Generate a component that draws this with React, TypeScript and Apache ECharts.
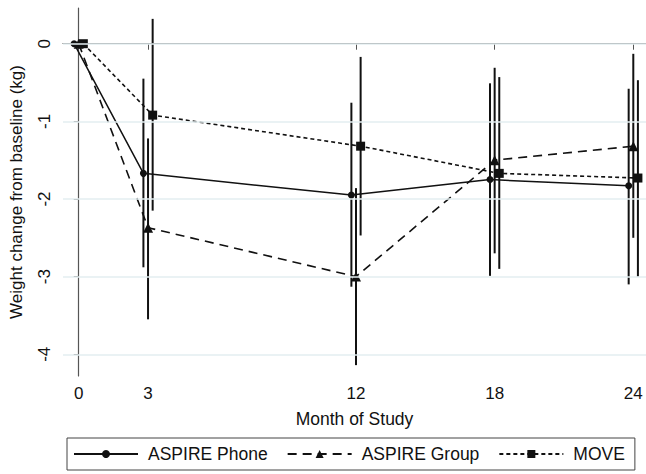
import React, { useEffect, useRef } from "react";
import * as echarts from "echarts";

const months = [0, 3, 12, 18, 24];
const xTicks = [0, 3, 12, 18, 24];
const yTicks = [-4, -3, -2, -1, 0];

const phone = [0, -1.67, -1.95, -1.75, -1.83];
const phoneLo = [null, -2.88, -3.13, -2.99, -3.1];
const phoneHi = [null, -0.45, -0.76, -0.51, -0.58];

const group = [0, -2.37, -3.0, -1.5, -1.32];
const groupLo = [null, -3.55, -4.14, -2.7, -2.5];
const groupHi = [null, -1.22, -1.86, -0.31, -0.13];

const move = [0, -0.92, -1.32, -1.67, -1.73];
const moveLo = [null, -2.15, -2.47, -2.9, -3.0];
const moveHi = [null, 0.32, -0.17, -0.43, -0.47];

const seriesNames = ["ASPIRE Phone", "ASPIRE Group", "MOVE"];
const offsets = [-0.2, 0, 0.2];

const FONT = "Liberation Sans, Arial, Helvetica, sans-serif";

function pts(vals: number[], off: number) {
  return months.map((m, i) => [m + off, vals[i]]);
}
function bars(lo: (number | null)[], hi: (number | null)[], off: number) {
  const out: number[][] = [];
  months.forEach((m, i) => {
    if (lo[i] !== null && hi[i] !== null) out.push([m + off, lo[i] as number, hi[i] as number]);
  });
  return out;
}

function errSeries(data: number[][]) {
  return {
    type: "custom",
    silent: true,
    z: 3,
    data,
    renderItem: (params: any, api: any) => {
      const x = api.value(0);
      const p1 = api.coord([x, api.value(1)]);
      const p2 = api.coord([x, api.value(2)]);
      return {
        type: "line",
        shape: { x1: p1[0], y1: p1[1], x2: p2[0], y2: p2[1] },
        style: { stroke: "#111", lineWidth: 2 },
      };
    },
  };
}

export default function App() {
  const ref = useRef<HTMLDivElement>(null);
  useEffect(() => {
    if (!ref.current) return;
    const chart = echarts.init(ref.current, null, { renderer: "svg" });
    const lineCommon = {
      type: "line",
      z: 4,
      symbolKeepAspect: true,
      itemStyle: { color: "#111" },
    };
    chart.setOption({
      animation: false,
      backgroundColor: "#fff",
      textStyle: { fontFamily: FONT },
      grid: { left: 61, right: 0, top: 8, bottom: 98 },
      xAxis: {
        type: "value",
        min: -0.68,
        max: 24.55,
        name: "Month of Study",
        nameLocation: "middle",
        nameGap: 34,
        nameTextStyle: { fontSize: 17.5, color: "#111", fontFamily: FONT },
        axisLine: { show: true, lineStyle: { color: "#555", width: 1.2 } },
        axisTick: { show: true, customValues: xTicks, length: 6, lineStyle: { color: "#555" } },
        axisLabel: { customValues: xTicks, fontSize: 17, color: "#111", margin: 9, fontFamily: FONT },
        splitLine: { show: false },
      },
      yAxis: {
        type: "value",
        min: -4.28,
        max: 0.46,
        name: "Weight change from baseline (kg)",
        nameLocation: "middle",
        nameRotate: 90,
        nameGap: 38,
        nameTextStyle: { fontSize: 17, color: "#111", fontFamily: FONT },
        axisLine: { show: true, lineStyle: { color: "#555", width: 1.2 } },
        axisTick: { show: true, customValues: yTicks, length: 5, lineStyle: { color: "#555" } },
        axisLabel: { customValues: yTicks, rotate: 90, fontSize: 17, color: "#111", margin: 10, fontFamily: FONT },
        splitLine: { show: false },
      },
      legend: {
        left: 67,
        top: 438,
        orient: "horizontal",
        data: seriesNames,
        itemWidth: 64,
        itemHeight: 10,
        itemGap: 19,
        padding: [7, 10, 7, 6],
        borderColor: "#444",
        borderWidth: 1,
        textStyle: { fontSize: 17.5, color: "#111", fontFamily: FONT, padding: [0, 0, 0, 5] },
      },
      series: [
        {
          type: "line",
          name: "grid",
          data: [],
          z: 1,
          silent: true,
          markLine: {
            silent: true,
            symbol: ["none", "none"],
            label: { show: false },
            lineStyle: { color: "#e3eef0", type: "solid", width: 1.5 },
            data: yTicks.map((v) => ({ yAxis: v })),
          },
        },
        errSeries(bars(phoneLo, phoneHi, offsets[0])),
        errSeries(bars(groupLo, groupHi, offsets[1])),
        errSeries(bars(moveLo, moveHi, offsets[2])),
        {
          ...lineCommon,
          name: seriesNames[0],
          data: pts(phone, offsets[0]),
          symbol: "circle",
          symbolSize: 7,
          lineStyle: { color: "#111", width: 1.5, type: "solid" },
        },
        {
          ...lineCommon,
          name: seriesNames[1],
          data: pts(group, offsets[1]),
          symbol: "triangle",
          symbolSize: 10,
          lineStyle: { color: "#111", width: 1.6, type: [9, 6] },
        },
        {
          ...lineCommon,
          name: seriesNames[2],
          data: pts(move, offsets[2]),
          symbol: "rect",
          symbolSize: 9,
          lineStyle: { color: "#111", width: 1.6, type: [4, 3] },
        },
      ],
    });
    return () => chart.dispose();
  }, []);
  return (
    <div
      ref={ref}
      style={{ position: "fixed", left: 0, top: 0, width: 646, height: 474, background: "#fff" }}
    />
  );
}
